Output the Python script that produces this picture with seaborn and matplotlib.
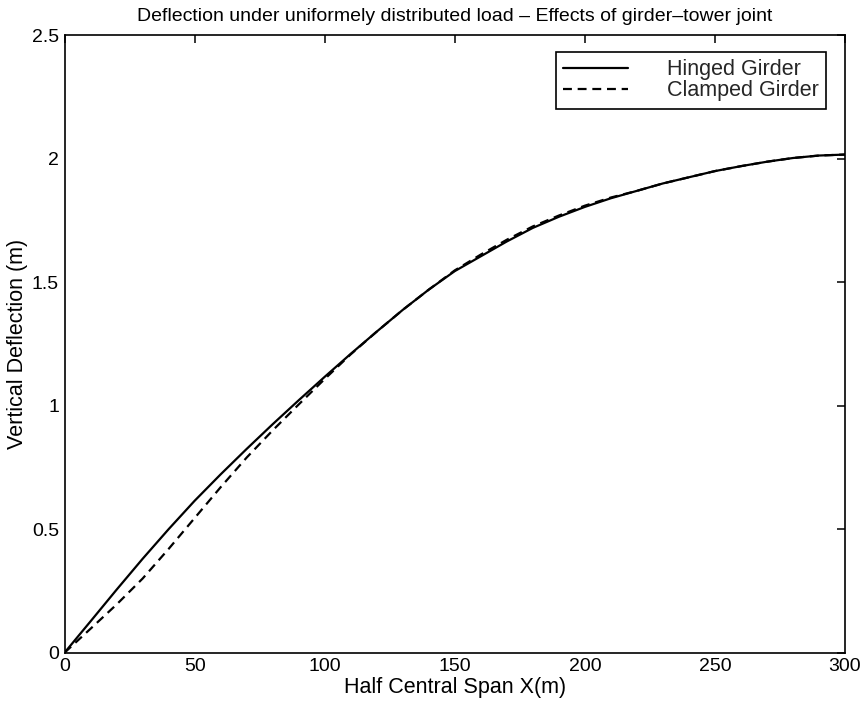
import matplotlib
matplotlib.use("Agg")
import matplotlib.pyplot as plt
import seaborn as sns
import pandas as pd

x_m = [0, 10, 20, 30, 40, 50, 60, 70, 80, 90, 100, 110, 120, 130, 140, 150,
       160, 170, 180, 190, 200, 210, 220, 230, 240, 250, 260, 270, 280, 290, 300]
hinged = [0, 0.127, 0.255, 0.38, 0.50, 0.615, 0.722, 0.825, 0.925, 1.022, 1.117,
          1.21, 1.30, 1.388, 1.47, 1.545, 1.605, 1.665, 1.72, 1.765, 1.805, 1.84,
          1.87, 1.90, 1.925, 1.95, 1.97, 1.988, 2.003, 2.013, 2.017]
clamped = [0, 0.097, 0.195, 0.30, 0.42, 0.545, 0.67, 0.79, 0.90, 1.005, 1.108,
           1.208, 1.30, 1.388, 1.47, 1.548, 1.612, 1.672, 1.726, 1.77, 1.81, 1.843,
           1.87, 1.90, 1.925, 1.95, 1.97, 1.988, 2.003, 2.013, 2.017]
series_names = ["Hinged Girder", "Clamped Girder"]

title = "Deflection under uniformely distributed load – Effects of girder–tower joint"
xlabel = "Half Central Span X(m)"
ylabel = "Vertical Deflection (m)"

sns.set_theme(style="white")
plt.rcParams["font.family"] = ["Liberation Sans", "DejaVu Sans"]

df = pd.DataFrame({
    "x": x_m * 2,
    "y": hinged + clamped,
    "series": [series_names[0]] * len(x_m) + [series_names[1]] * len(x_m),
})

fig = plt.figure(figsize=(8.64, 7.04), dpi=100)
ax = fig.add_axes([0.0747, 0.0729, 0.9033, 0.8770])

sns.lineplot(data=df, x="x", y="y", style="series", hue="series",
             palette=["black", "black"],
             dashes={series_names[0]: "", series_names[1]: (4, 2.6)},
             linewidth=1.6, ax=ax, legend=True)

ax.set_xlim(0, 300)
ax.set_ylim(0, 2.5)
ax.set_xticks([0, 50, 100, 150, 200, 250, 300])
ax.set_yticks([0, 0.5, 1, 1.5, 2, 2.5])
ax.set_yticklabels(["0", "0.5", "1", "1.5", "2", "2.5"])
ax.tick_params(direction="in", length=6, width=1.1, top=True, right=True,
               labelsize=14, colors="black", pad=4)
for s in ax.spines.values():
    s.set_color("black")
    s.set_linewidth(1.2)
ax.set_title(title, fontsize=14, color="black", pad=10)
ax.set_xlabel(xlabel, fontsize=15.5, color="black", labelpad=1)
ax.set_ylabel(ylabel, fontsize=15.5, color="black", labelpad=3)

handles, labels = ax.get_legend_handles_labels()
leg = ax.legend(handles, labels, loc="upper right",
                bbox_to_anchor=(0.9757, 0.973), fontsize=15.5,
                frameon=True, fancybox=False, framealpha=1,
                edgecolor="black", handlelength=3.0, handletextpad=1.8,
                labelspacing=0.0, borderpad=0.35, borderaxespad=0)
leg.get_frame().set_linewidth(1.2)

fig.savefig("out.png", dpi=100)
